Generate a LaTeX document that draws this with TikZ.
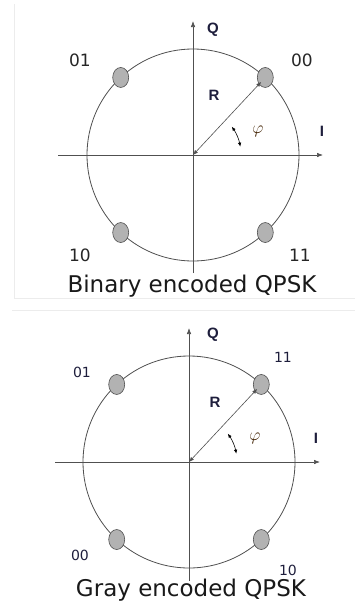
\documentclass[tikz,border=0pt]{standalone}
\usepackage{fontspec}
\setmainfont{DejaVu Sans}
\newfontfamily\axisfont{Liberation Sans}
\usetikzlibrary{arrows.meta, positioning, shapes.geometric, calc}
\definecolor{qpskgray}{RGB}{178, 178, 178}
\definecolor{qpskline}{RGB}{80, 80, 80}
\definecolor{qpsknavy}{RGB}{30, 30, 60}
\definecolor{qpskframe}{RGB}{236, 236, 236}

\begin{document}
\begin{tikzpicture}[
    x=1pt, y=1pt,
    axis/.style={draw=qpskline, line width=0.6pt, -{Latex[length=6pt,width=4.5pt]}},
    ring/.style={draw=qpskline, line width=0.8pt},
    symbol/.style={ellipse, draw=qpskline, fill=qpskgray, line width=0.6pt, minimum width=16pt, minimum height=20pt, inner sep=0pt},
    radial/.style={draw=qpskline, line width=0.6pt, {Latex[length=5pt,width=4pt]}-{Latex[length=5pt,width=4pt]}, shorten >=6pt},
    sweep/.style={draw=black, line width=0.6pt, {Latex[length=4pt,width=3.5pt]}-{Latex[length=4pt,width=3.5pt]}},
    bits/.style={font=\fontsize{17}{17}\selectfont, text=black!85},
    graybits/.style={font=\fontsize{14}{14}\selectfont, text=qpsknavy},
    axislabel/.style={font=\axisfont\bfseries\fontsize{15}{15}\selectfont, text=qpsknavy},
    anglelabel/.style={font=\fontsize{19}{19}\selectfont, text=black!75!orange},
    caption/.style={font=\fontsize{23}{23}\selectfont, text=black!90, anchor=base},
]
\useasboundingbox (0,0) rectangle (355,-603);

% faint frames
\draw[qpskframe, line width=0.8pt] (14,-4) -- (14,-298) -- (355,-298);
\draw[qpskframe, line width=0.8pt] (12,-310) -- (355,-310);

%%% Binary encoded QPSK
\coordinate (o1) at (193,-155);
\coordinate (i1a) at (58,-155);
\coordinate (i1b) at (323,-155);
\coordinate (q1a) at (193,-273);
\coordinate (q1b) at (193,-21);

% axes and circle
\draw[axis] (i1a) -- (i1b);
\draw[axis] (q1a) -- (q1b);
\draw[ring] (o1) circle[radius=106];

% symbols
\node[symbol] (b00) at ($(o1)+(47:106)$) {};
\node[symbol] (b01) at ($(o1)+(133:106)$) {};
\node[symbol] (b10) at ($(o1)+(227:106)$) {};
\node[symbol] (b11) at ($(o1)+(313:106)$) {};

% radius and angle
\draw[radial] (o1) -- (b00.center);
\draw[sweep] ([shift={(10:48)}]o1) arc[start angle=10, end angle=36, radius=48];

% labels
\node[bits] (l01) at (80,-60) {01};
\node[bits] (l00) at (302,-60) {00};
\node[bits] (l10) at (80,-255) {10};
\node[bits] (l11) at (300,-255) {11};
\node[axislabel] (qa) at (213,-30) {Q};
\node[axislabel] (ra) at (214,-95) {R};
\node[axislabel] (ia) at (322,-131) {I};
\node[anglelabel] (pa) at (258,-131) {$\varphi$};
\node[caption] (capa) at (192,-292) {Binary encoded QPSK};

%%% Gray encoded QPSK
\coordinate (o2) at (189,-462);
\coordinate (i2a) at (55,-462);
\coordinate (i2b) at (320,-462);
\coordinate (q2a) at (189,-581);
\coordinate (q2b) at (189,-328);

% axes and circle
\draw[axis] (i2a) -- (i2b);
\draw[axis] (q2a) -- (q2b);
\draw[ring] (o2) circle[radius=106];

% symbols
\node[symbol] (g11) at ($(o2)+(47:106)$) {};
\node[symbol] (g01) at ($(o2)+(133:106)$) {};
\node[symbol] (g00) at ($(o2)+(227:106)$) {};
\node[symbol] (g10) at ($(o2)+(313:106)$) {};

% radius and angle
\draw[radial] (o2) -- (g11.center);
\draw[sweep] ([shift={(10:48)}]o2) arc[start angle=10, end angle=36, radius=48];

% labels
\node[graybits] (m01) at (82,-372) {01};
\node[graybits] (m11) at (283,-357) {11};
\node[graybits] (m00) at (80,-555) {00};
\node[graybits] (m10) at (288,-570) {10};
\node[axislabel] (qb) at (213,-335) {Q};
\node[axislabel] (rb) at (215,-402) {R};
\node[axislabel] (ib) at (316,-438) {I};
\node[anglelabel] (pb) at (255,-438) {$\varphi$};
\node[caption] (capb) at (191,-596) {Gray encoded QPSK};

\end{tikzpicture}
\end{document}
